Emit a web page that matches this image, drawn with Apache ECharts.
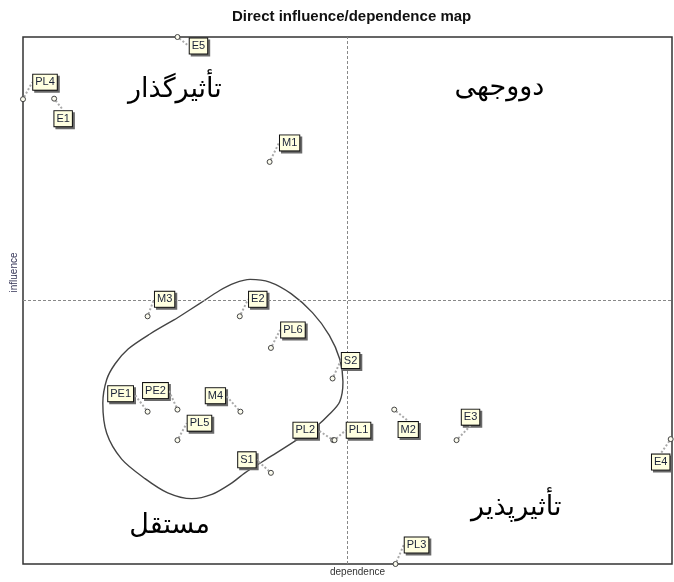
<!DOCTYPE html>
<html>
<head>
<meta charset="utf-8">
<script src="https://cdn.jsdelivr.net/npm/echarts@6/dist/echarts.min.js"></script>
<style>
html,body{margin:0;padding:0;background:#fff;}
#chart{width:674px;height:582px;}
</style>
</head>
<body>
<div id="chart"></div>
<script>
// Variables
const categories = ['E5','PL4','E1','M1','M3','E2','PL6','S2','PE1','PE2','M4','PL5','PL2','PL1','S1','M2','E3','E4','PL3'];
const dependence = [23.8, 0, 4.8, 38.0, 19.2, 33.4, 38.2, 47.7, 19.2, 23.8, 33.5, 23.8, 47.8, 48.0, 38.2, 57.2, 66.8, 99.8, 57.4];
const influence  = [100, 88.2, 88.3, 76.3, 47.0, 47.0, 41.0, 35.2, 28.9, 29.3, 28.9, 23.5, 23.5, 23.5, 17.3, 29.3, 23.5, 23.7, 0];

// Mean lines
const meanDependence = 50;
const meanInfluence = 50;

// Quadrant names and their centres (data units)
const quadrantNames = ['تأثیرگذار', 'دووجهی', 'مستقل', 'تأثیرپذیر'];
const quadrantDependence = [23.4, 73.4, 22.6, 76.0];
const quadrantInfluence  = [90.0, 90.4, 7.3, 10.7];

// Cluster contour (data units)
const contourDependence = [23.4, 27.2, 30.3, 32.6, 35.0, 38.0, 41.3, 44.6, 47.2, 48.8, 49.3, 48.8, 47.2, 45.2, 42.6, 38.3, 34.2, 32.2, 29.1, 26.0, 22.3, 18.8, 15.2, 12.9, 12.3, 12.9, 14.2, 16.2, 19.5, 23.4];
const contourInfluence  = [46.4, 49.4, 51.9, 53.3, 54.0, 53.5, 51.3, 47.7, 43.4, 38.9, 34.6, 30.8, 28.4, 26.1, 23.9, 20.5, 17.3, 15.4, 13.2, 12.4, 13.5, 16.2, 19.9, 24.8, 30.5, 35.0, 38.0, 40.8, 43.6, 46.4];

// Label displacement (pixels) — layout, kept separate from data
const labelShift = [[21,9],[22,-17],[9,20],[20,-19],[17,-17],[18,-17],[22,-18],[18,-18],[-27,-18],[-22,-19],[-25,-16],[22,-17],[-28,-10],[24,-10],[-24,-13],[14,20],[14,-23],[-10,23],[21,-19]];

const pointData = categories.map((c, i) => ({ name: c, value: [dependence[i], influence[i]] }));
const quadData = quadrantNames.map((n, i) => ({ name: n, value: [quadrantDependence[i], quadrantInfluence[i]] }));
const contourData = contourDependence.map((x, i) => [x, contourInfluence[i]]);

const labelBase = {
  show: true,
  position: 'inside',
  formatter: '{b}',
  fontFamily: 'Liberation Sans, Arial',
  fontSize: 11,
  lineHeight: 13,
  borderWidth: 1,
  opacity: 1,
  padding: [1, 2, 1, 2]
};

const chart = echarts.init(document.getElementById('chart'), null, { renderer: 'canvas' });
chart.setOption({
  animation: false,
  backgroundColor: '#fff',
  title: {
    text: 'Direct influence/dependence map',
    left: 227,
    top: 4,
    textStyle: { fontFamily: 'Liberation Sans, Arial', fontSize: 15, fontWeight: 'bold', color: '#111' }
  },
  grid: {
    left: 23, right: 2, top: 37, bottom: 13,
    show: true, borderColor: '#333', borderWidth: 1.5, backgroundColor: 'transparent'
  },
  xAxis: {
    type: 'value', min: 0, max: 100,
    name: 'dependence', nameLocation: 'middle', nameGap: 3,
    nameTextStyle: { fontFamily: 'Liberation Sans, Arial', fontSize: 10, color: '#333', padding: [0, 0, 0, 20] },
    axisLine: { show: false }, axisTick: { show: false }, axisLabel: { show: false }, splitLine: { show: false }
  },
  yAxis: {
    type: 'value', min: 0, max: 100,
    name: 'influence', nameLocation: 'middle', nameGap: 4,
    nameTextStyle: { fontFamily: 'Liberation Sans, Arial', fontSize: 10, color: '#335', padding: [0, 0, 0, 56] },
    axisLine: { show: false }, axisTick: { show: false }, axisLabel: { show: false }, splitLine: { show: false }
  },
  series: [
    {
      type: 'line',
      data: contourData,
      smooth: 0.3,
      symbol: 'none',
      silent: true,
      lineStyle: { color: '#444', width: 1.4 },
      markLine: {
        silent: true,
        symbol: 'none',
        label: { show: false },
        lineStyle: { color: '#888', type: [3, 2], width: 1 },
        data: [{ xAxis: meanDependence }, { yAxis: meanInfluence }]
      },
      z: 2
    },
    {
      type: 'scatter',
      data: quadData,
      symbolSize: 0,
      silent: true,
      itemStyle: { opacity: 1 },
      label: {
        show: true, position: 'inside',
        formatter: '{b}',
        fontFamily: 'DejaVu Sans, Noto Sans',
        fontSize: 27,
        opacity: 1,
        color: '#000'
      },
      z: 3
    },
    {
      // drop shadow boxes of the point labels
      type: 'scatter',
      data: pointData,
      clip: false,
      silent: true,
      symbolSize: 0,
      itemStyle: { opacity: 1 },
      label: Object.assign({}, labelBase, {
        color: 'rgba(0,0,0,0)',
        backgroundColor: '#6a6a6a',
        borderColor: '#6a6a6a'
      }),
      labelLayout: function (params) {
        const s = labelShift[params.dataIndex];
        return { dx: s[0] + 2, dy: s[1] + 2 };
      },
      z: 4
    },
    {
      type: 'scatter',
      data: pointData,
      clip: false,
      symbol: 'circle',
      symbolSize: 5,
      itemStyle: { color: '#fbfbee', borderColor: '#444', borderWidth: 1, opacity: 1 },
      label: Object.assign({}, labelBase, {
        color: '#1a2238',
        backgroundColor: '#ffffe0',
        borderColor: '#111'
      }),
      labelLine: {
        show: true,
        lineStyle: { color: '#aaa', type: 'dotted', width: 2, opacity: 1 }
      },
      labelLayout: function (params) {
        const s = labelShift[params.dataIndex];
        return { dx: s[0], dy: s[1] };
      },
      z: 5
    }
  ]
});
</script>
</body>
</html>
